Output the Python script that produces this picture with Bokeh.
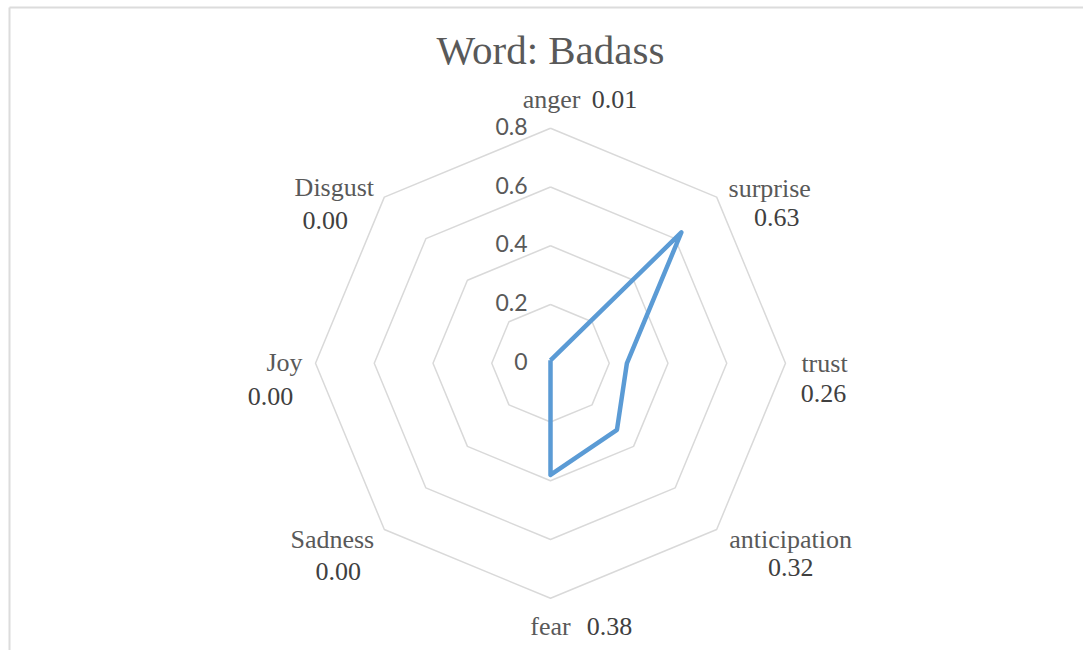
import numpy as np
from bokeh.plotting import figure
from bokeh.models import Range1d, ColumnDataSource
from bokeh.core.properties import value
from bokeh.embed import file_html
from bokeh.resources import INLINE

# ---- data -------------------------------------------------------------
title_text = "Word: Badass"
emotions = ["anger", "surprise", "trust", "anticipation", "fear", "Sadness", "Joy", "Disgust"]
scores = [0.01, 0.63, 0.26, 0.32, 0.38, 0.00, 0.00, 0.00]
tick_values = [0.0, 0.2, 0.4, 0.6, 0.8]
tick_labels = ["0", "0.2", "0.4", "0.6", "0.8"]

# ---- layout (pixels) --------------------------------------------------
W, H = 1083, 650
CX, CY = 550.0, 362.8          # chart centre on the canvas
R_MAX = max(tick_values)
PX = 235.0 / R_MAX             # pixels per unit of score

# label placement around the outer ring vertex: (dx, dy) in px, dy downwards
cat_offsets = [(1, -29), (53, -9), (39, 0), (74, 10), (0, 28), (-52, 10), (-31, -1), (-50, -10)]
val_offsets = [(64, -29), (60, 20), (38, 30), (74, 38), (59, 28), (-46, 42), (-45, 33), (-59, 23)]

GRID = "#d9d9d9"
LINE = "#5b9bd5"
TXT = "#595959"
VAL_TXT = "#404040"
SERIF = "Liberation Serif"
SANS = "Lato"

n = len(emotions)
theta = np.pi / 2 - np.arange(n) * 2 * np.pi / n
cos_t, sin_t = np.cos(theta), np.sin(theta)

p = figure(width=W, height=H, output_backend="svg", toolbar_location=None,
           x_range=Range1d(-CX / PX, (W - CX) / PX),
           y_range=Range1d(-(H - CY) / PX, CY / PX),
           min_border=0)
p.axis.visible = False
p.grid.visible = False
p.outline_line_color = None
p.background_fill_color = "white"
p.border_fill_color = "white"

# frame lines along the top and left edge of the chart area
top_y = (CY - 7) / PX
left_x = (9 - CX) / PX
p.line([left_x, (W - CX) / PX + 1], [top_y, top_y], line_color="#dcdcdc", line_width=2)
p.line([left_x, left_x], [top_y, -(H - CY) / PX - 1], line_color="#dcdcdc", line_width=2)

# octagonal grid rings
for lvl in tick_values[1:]:
    xs = list(lvl * cos_t) + [lvl * cos_t[0]]
    ys = list(lvl * sin_t) + [lvl * sin_t[0]]
    p.line(xs, ys, line_color=GRID, line_width=1.5)

# score polygon
s = np.array(scores)
px_ = list(s * cos_t) + [s[0] * cos_t[0]]
py_ = list(s * sin_t) + [s[0] * sin_t[0]]
p.line(px_, py_, line_color=LINE, line_width=4.5, line_join="round")

# radial tick labels, right-aligned left of the vertical axis
tick_src = ColumnDataSource(dict(x=[-23 / PX] * len(tick_values),
                                 y=[v + 2 / PX for v in tick_values], t=tick_labels))
p.text(x="x", y="y", text="t", source=tick_src, text_align="right", text_baseline="middle",
       text_font=value(SANS), text_font_size="23px", text_color=TXT)

# category names and their values, placed round the outer ring
vx = R_MAX * cos_t
vy = R_MAX * sin_t
cat_src = ColumnDataSource(dict(
    x=[vx[i] + cat_offsets[i][0] / PX for i in range(n)],
    y=[vy[i] - cat_offsets[i][1] / PX for i in range(n)],
    t=emotions))
val_src = ColumnDataSource(dict(
    x=[vx[i] + val_offsets[i][0] / PX for i in range(n)],
    y=[vy[i] - val_offsets[i][1] / PX for i in range(n)],
    t=[f"{v:.2f}" for v in scores]))
p.text(x="x", y="y", text="t", source=cat_src, text_align="center", text_baseline="alphabetic",
       text_font=value(SERIF), text_font_size="26px", text_color=TXT)
p.text(x="x", y="y", text="t", source=val_src, text_align="center", text_baseline="alphabetic",
       text_font=value(SERIF), text_font_size="26px", text_color=VAL_TXT)

# chart title
p.text(x=[0], y=[(CY - 49) / PX], text=[title_text], text_align="center",
       text_baseline="alphabetic", text_font=value(SERIF), text_font_size="41px", text_color=TXT)

open("out.html", "w").write(file_html(p, INLINE))
